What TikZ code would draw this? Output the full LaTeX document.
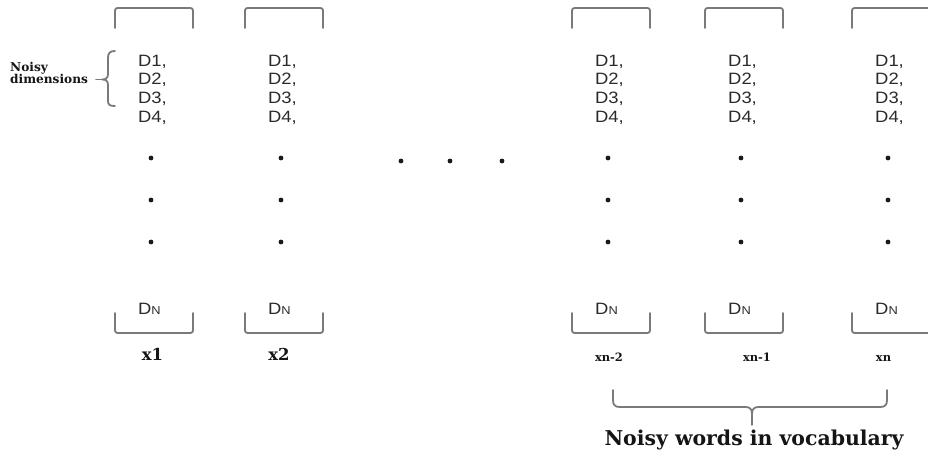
\documentclass[tikz,border=0pt]{standalone}
\usepackage{fontspec}
\setsansfont{Liberation Sans}
\newfontfamily\notefont{DejaVu Serif}
\definecolor{inkgray}{HTML}{2A2A2A}
\definecolor{rulegray}{HTML}{7A7A7A}
\definecolor{labelink}{HTML}{151515}
\tikzset{
  bracketline/.style={draw=rulegray, line width=1.8bp, rounded corners=2.5bp, line cap=round},
  braceline/.style={draw=rulegray, line width=1.8bp, line cap=round, line join=round},
  dimtext/.style={font=\sffamily\fontsize{16.5}{18}\selectfont, text=inkgray, inner sep=0, anchor=base west},
  dotmark/.style={circle, fill=black!90, inner sep=0, minimum size=4.8bp},
  wordlabel/.style={font=\notefont\bfseries\fontsize{16.5}{17}\selectfont, text=labelink, inner sep=0, anchor=base},
  smalllabel/.style={wordlabel, font=\notefont\bfseries\fontsize{11.5}{12}\selectfont},
  notetext/.style={text=labelink, inner sep=0}
}
% dimension entries are set slightly wide
\newcommand{\dimentry}[1]{\scalebox{1.12}[1]{#1}}
\begin{document}
\begin{tikzpicture}[x=1bp,y=-1bp]
\useasboundingbox (0,0) rectangle (928,453);

% one column of dimensions per word vector
\foreach \cid/\tx/\bl in {c1/138/115, c2/268/245, c4/595/572, c5/728/705, c6/875/852}{
  \draw[bracketline] (\bl,28) -- (\bl,8) -- (\bl+78,8) -- (\bl+78,28);
  \node[dimtext] (\cid-d1) at (\tx,66.5) {\dimentry{D1,}};
  \node[dimtext] (\cid-d2) at (\tx,85) {\dimentry{D2,}};
  \node[dimtext] (\cid-d3) at (\tx,103.5) {\dimentry{D3,}};
  \node[dimtext] (\cid-d4) at (\tx,122.5) {\dimentry{D4,}};
  \node[dotmark] (\cid-p1) at (\tx+13,158) {};
  \node[dotmark] (\cid-p2) at (\tx+13,200) {};
  \node[dotmark] (\cid-p3) at (\tx+13,242) {};
  \node[dimtext] (\cid-dn) at (\tx,315) {\dimentry{D{\fontsize{11.5}{12}\selectfont N}}};
  \draw[bracketline] (\bl,313) -- (\bl,333) -- (\bl+78,333) -- (\bl+78,313);
}

% ellipsis between the columns
\node[dotmark] (gap1) at (401,161) {};
\node[dotmark] (gap2) at (450,161) {};
\node[dotmark] (gap3) at (502,161) {};

% word labels
\node[wordlabel] (w1) at (152.5,361) {x1};
\node[wordlabel] (w2) at (279,361) {x2};
\node[smalllabel] (wn2) at (609,361.5) {xn-2};
\node[smalllabel] (wn1) at (757,361.5) {xn-1};
\node[smalllabel] (wn) at (883.5,361.5) {xn};

% noisy dimensions brace (base anchor sits on the last line)
\node[notetext, anchor=base west, align=left,
      font=\notefont\bfseries\fontsize{12.2}{12}\selectfont] (noisydim) at (10,83.5)
  {Noisy\\dimensions};
\coordinate (bt) at (115,51);
\coordinate (bb) at (115,106);
\coordinate (btip) at (102,79.5);
\coordinate (btail) at (96,79.5);
\draw[braceline] (bt) .. controls (110,51) and (108,53) .. (108,58) -- (108,74)
  .. controls (108,78) and (106,79.5) .. (btip)
  .. controls (106,79.5) and (108,81) .. (108,85) -- (108,101)
  .. controls (108,105) and (110,106) .. (bb);
\draw[braceline] (btail) -- (btip);

% noisy words brace
\coordinate (wl) at (613,390);
\coordinate (wr) at (887,390);
\coordinate (wtip) at (752,425);
\draw[braceline] (wl) -- (613,400) .. controls (613,405) and (615,407) .. (620,407)
  -- (745,407) .. controls (750,407) and (752,409) .. (752,414) -- (wtip);
\draw[braceline] (752,414) .. controls (752,409) and (754,407) .. (759,407)
  -- (880,407) .. controls (885,407) and (887,405) .. (887,400) -- (wr);
\node[notetext, anchor=base, font=\notefont\bfseries\fontsize{20.5}{21}\selectfont]
  (noisywords) at (754,445) {Noisy words in vocabulary};
\end{tikzpicture}
\end{document}
